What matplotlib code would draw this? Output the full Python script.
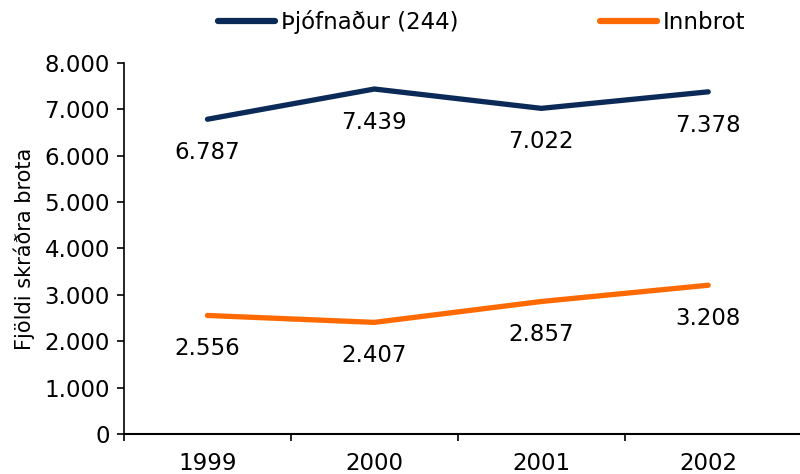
import matplotlib.pyplot as plt
from matplotlib.ticker import FuncFormatter, FixedLocator

years = ['1999', '2000', '2001', '2002']
thjofnadur = [6787, 7439, 7022, 7378]
innbrot = [2556, 2407, 2857, 3208]
series_names = ['Þjófnaður (244)', 'Innbrot']
colors = ['#0b2a57', '#ff6a00']

plt.rcParams['font.family'] = ['DejaVu Sans']
plt.rcParams['font.size'] = 16.5


def dotfmt(v, pos=None):
    return '{:,.0f}'.format(v).replace(',', '.')


fig = plt.figure(figsize=(8, 4.74), dpi=100)
ax = fig.add_axes([0.155, 0.0844, 0.845, 0.7827])

x = list(range(len(years)))
lines = []
for vals, name, c in zip([thjofnadur, innbrot], series_names, colors):
    ln, = ax.plot(x, vals, color=c, lw=3.8, solid_capstyle='round', label=name)
    lines.append(ln)
    for xi, v in zip(x, vals):
        ax.annotate(dotfmt(v), (xi, v), xytext=(0, -24), textcoords='offset points',
                    ha='center', va='center', fontsize=16.5)

ax.set_ylim(0, 8000)
ax.set_xlim(-0.5, 3.55)
ax.set_yticks(range(0, 8001, 1000))
ax.yaxis.set_major_formatter(FuncFormatter(dotfmt))
ax.set_xticks(x)
ax.set_xticklabels(years, fontsize=16.5)
ax.xaxis.set_minor_locator(FixedLocator([-0.5, 0.5, 1.5, 2.5]))
ax.tick_params(axis='x', which='major', length=0, pad=13)
ax.tick_params(axis='x', which='minor', length=5, width=1.2)
ax.tick_params(axis='y', length=5, width=1.2, pad=5, labelsize=16.5)
ax.set_ylabel('Fjöldi skráðra brota', fontsize=15, labelpad=7)

for s in ['top', 'right']:
    ax.spines[s].set_visible(False)
ax.spines['left'].set_linewidth(1.2)
ax.spines['bottom'].set_linewidth(1.5)

leg = fig.legend(handles=lines, loc='center', bbox_to_anchor=(0.602, 0.954), ncol=2,
                 frameon=False, handlelength=2.5, handletextpad=0.25, columnspacing=6.2,
                 fontsize=16.5)
for h in leg.legend_handles:
    h.set_linewidth(4.5)

fig.savefig('out.png', dpi=100)
